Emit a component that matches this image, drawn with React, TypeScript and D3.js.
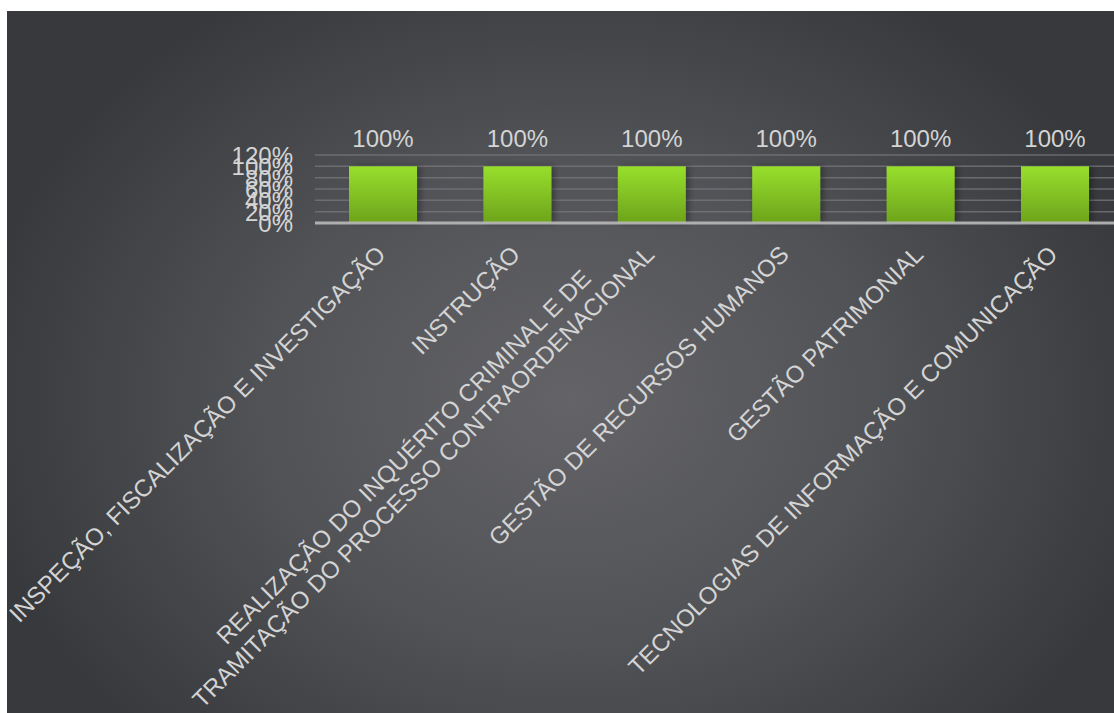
import React from "react";
import * as d3 from "d3";

const categories: string[] = [
  "INSPEÇÃO, FISCALIZAÇÃO E INVESTIGAÇÃO",
  "INSTRUÇÃO",
  "REALIZAÇÃO DO INQUÉRITO CRIMINAL E DE\nTRAMITAÇÃO DO PROCESSO CONTRAORDENACIONAL",
  "GESTÃO DE RECURSOS HUMANOS",
  "GESTÃO PATRIMONIAL",
  "TECNOLOGIAS DE INFORMAÇÃO E COMUNICAÇÃO",
];
const values: number[] = [1, 1, 1, 1, 1, 1];
const yTicks: number[] = [0, 0.2, 0.4, 0.6, 0.8, 1.0, 1.2];

const FONT = "'Liberation Sans', Arial, Helvetica, sans-serif";
const FS = 24;
const TXT = "#d4d4d4";

let ctx: CanvasRenderingContext2D | null = null;
function measure(s: string): number {
  if (!ctx) {
    const c = document.createElement("canvas");
    ctx = c.getContext("2d");
  }
  if (!ctx) return s.length * FS * 0.6;
  ctx.font = `${FS}px ${FONT}`;
  return ctx.measureText(s).width;
}

export default function App() {
  const x = d3
    .scaleBand<string>()
    .domain(categories)
    .range([315.8, 1122.2])
    .paddingInner(0.494)
    .paddingOuter(0.247);
  const y = d3.scaleLinear().domain([0, 1.2]).range([223, 155]);
  const pct = d3.format(".0%");
  const bw = x.bandwidth();
  const lh = 28;

  return (
    <div
      style={{
        position: "fixed",
        left: 0,
        top: 0,
        width: 1114,
        height: 713,
        overflow: "hidden",
        background: "#fff",
      }}
    >
      <svg width={1114} height={713} style={{ display: "block" }}>
        <defs>
          <radialGradient
            id="bg"
            gradientUnits="userSpaceOnUse"
            cx={570}
            cy={400}
            r={600}
            gradientTransform="translate(570 400) scale(1 0.8) translate(-570 -400)"
          >
            <stop offset="0" stopColor="#636368" />
            <stop offset="0.5" stopColor="#525357" />
            <stop offset="1" stopColor="#37393c" />
          </radialGradient>
          <linearGradient id="bar" x1="0" y1="0" x2="0" y2="1">
            <stop offset="0" stopColor="#97df2c" />
            <stop offset="1" stopColor="#6da31c" />
          </linearGradient>
          <filter id="sh" x="-30%" y="-10%" width="160%" height="120%">
            <feDropShadow dx="3" dy="0" stdDeviation="3" floodColor="#000" floodOpacity="0.35" />
          </filter>
        </defs>
        <rect x={7} y={11} width={1130} height={720} fill="url(#bg)" />

        {yTicks
          .filter((t) => t > 0)
          .map((t) => (
            <line
              key={"g" + t}
              x1={315}
              x2={1130}
              y1={y(t)}
              y2={y(t)}
              stroke="#76767b"
              strokeOpacity={0.8}
              strokeWidth={1.5}
            />
          ))}

        {yTicks.map((t) => (
          <text
            key={"t" + t}
            x={293}
            y={y(t)}
            dy="0.38em"
            textAnchor="end"
            fontFamily={FONT}
            fontSize={FS}
            fill={TXT}
          >
            {pct(t)}
          </text>
        ))}

        {categories.map((c, i) => (
          <rect
            key={"b" + i}
            x={x(c)}
            y={y(values[i])}
            width={bw}
            height={y(0) - y(values[i])}
            fill="url(#bar)"
            filter="url(#sh)"
          />
        ))}

        <line x1={315} x2={1130} y1={y(0)} y2={y(0)} stroke="#b9b9b9" strokeOpacity={0.9} strokeWidth={3} />

        {categories.map((c, i) => (
          <text
            key={"v" + i}
            x={(x(c) as number) + bw / 2}
            y={y(values[i]) - 19}
            textAnchor="middle"
            fontFamily={FONT}
            fontSize={FS}
            fill={TXT}
          >
            {pct(values[i])}
          </text>
        ))}

        {categories.map((c, i) => {
          const lines = c.split("\n");
          const widths = lines.map(measure);
          const maxW = Math.max(...widths);
          const cx = (x(c) as number) + bw / 2 + 4;
          const cy = 256;
          return (
            <g key={"l" + i} transform={`translate(${cx},${cy}) rotate(-45)`}>
              {lines.map((ln, j) => (
                <text
                  key={j}
                  x={-maxW / 2}
                  y={-(lines.length - 1 - j) * lh}
                  textAnchor="middle"
                  fontFamily={FONT}
                  fontSize={FS}
                  fill={TXT}
                >
                  {ln}
                </text>
              ))}
            </g>
          );
        })}
      </svg>
    </div>
  );
}
